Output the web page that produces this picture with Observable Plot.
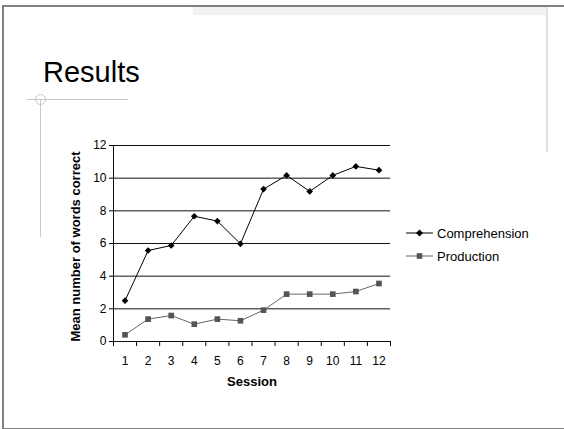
<!DOCTYPE html>
<html>
<head>
<meta charset="utf-8">
<script src="https://cdn.jsdelivr.net/npm/d3@7"></script>
<script src="https://cdn.jsdelivr.net/npm/@observablehq/plot@0.6"></script>
<style>
  html, body { margin: 0; padding: 0; background: #fff; }
  #slide { position: relative; width: 564px; height: 429px; overflow: hidden; font-family: "Liberation Sans", Arial, sans-serif; }
  .abs { position: absolute; }
  #frame { left: 2px; top: 5px; width: 570px; height: 421px; border-top: 2px solid #808080; border-left: 2px solid #808080; border-bottom: 2px solid #808080; box-sizing: content-box; }
  #band { left: 193px; top: 7px; width: 354px; height: 8px; background: #f2f2f2; }
  #vline { left: 546px; top: 7px; width: 2px; height: 145px; background: #e0e0e0; }
  #hline2 { left: 27px; top: 99px; width: 101px; height: 1px; background: #c8c8c8; }
  #vline2 { left: 40px; top: 99px; width: 1px; height: 138px; background: #c8c8c8; }
  #circ { left: 35px; top: 94px; width: 9px; height: 9px; border: 1px solid #c8c8c8; border-radius: 50%; }
  #title { left: 43px; top: 52px; font-size: 29px; line-height: 40px; color: #000; }
  #chart { left: 0; top: 0; }
  .leg { position: absolute; left: 406px; font-size: 13px; color: #000; display: flex; align-items: center; height: 16px; }
  .leg svg { margin-right: 4px; }
</style>
</head>
<body>
<div id="slide">
  <div id="frame" class="abs"></div>
  <div id="band" class="abs"></div>
  <div id="vline" class="abs"></div>
  <div id="hline2" class="abs"></div>
  <div id="vline2" class="abs"></div>
  <div id="circ" class="abs"></div>
  <div id="title" class="abs">Results</div>
  <div id="chart" class="abs"></div>
  <div class="leg" style="top:225px"><svg width="27" height="10"><line x1="0" y1="5" x2="27" y2="5" stroke="#000"/><path d="M13.5 1.5 L17 5 L13.5 8.5 L10 5 Z" fill="#000"/></svg>Comprehension</div>
  <div class="leg" style="top:248px"><svg width="27" height="10"><line x1="0" y1="5" x2="27" y2="5" stroke="#666"/><rect x="10.7" y="2.2" width="5.6" height="5.6" fill="#555"/></svg>Production</div>
</div>
<script>
const sessions = [1, 2, 3, 4, 5, 6, 7, 8, 9, 10, 11, 12];
const comprehension = [2.5, 5.57, 5.88, 7.67, 7.37, 5.98, 9.33, 10.17, 9.19, 10.17, 10.72, 10.49];
const production = [0.41, 1.37, 1.59, 1.06, 1.37, 1.27, 1.92, 2.9, 2.9, 2.9, 3.06, 3.55];
const yTicks = [0, 2, 4, 6, 8, 10, 12];
const gridValues = [2, 4, 6, 8, 10, 12];
const xBoundaries = [0.5, 1.5, 2.5, 3.5, 4.5, 5.5, 6.5, 7.5, 8.5, 9.5, 10.5, 11.5, 12.5];
const yLabel = "Mean number of words correct";
const xLabel = "Session";

const comp = sessions.map((s, i) => ({session: s, value: comprehension[i]}));
const prod = sessions.map((s, i) => ({session: s, value: production[i]}));

const chart = Plot.plot({
  width: 564,
  height: 429,
  marginLeft: 113,
  marginRight: 174,
  marginTop: 145,
  marginBottom: 88,
  x: {domain: [0.5, 12.5]},
  y: {domain: [0, 12]},
  style: {fontFamily: "'Liberation Sans', Arial, sans-serif", fontSize: "12px", color: "#000", background: "transparent", overflow: "visible"},
  marks: [
    Plot.ruleY(gridValues, {stroke: "#111", strokeWidth: 1}),
    Plot.ruleY([0], {stroke: "#111", strokeWidth: 1}),
    Plot.ruleX([0.5], {stroke: "#111", strokeWidth: 1}),
    Plot.axisY({ticks: yTicks, tickSize: 4, tickPadding: 3, label: null, fontSize: 12}),
    Plot.axisX({ticks: xBoundaries, tickSize: 5, tickFormat: () => "", label: null}),
    Plot.axisX({ticks: sessions, tickSize: 0, tickPadding: 15, label: null, fontSize: 12}),
    Plot.line(prod, {x: "session", y: "value", stroke: "#666", strokeWidth: 1}),
    Plot.dot(prod, {x: "session", y: "value", symbol: "square", r: 3.2, fill: "#555"}),
    Plot.line(comp, {x: "session", y: "value", stroke: "#000", strokeWidth: 1}),
    Plot.dot(comp, {x: "session", y: "value", symbol: "diamond2", r: 3, fill: "#000"}),
    Plot.text([yLabel], {text: d => d, frameAnchor: "left", textAnchor: "middle", dx: -38, dy: 3, rotate: -90, fontWeight: "bold", fontSize: 13}),
    Plot.text([xLabel], {text: d => d, frameAnchor: "bottom", dy: 44, fontWeight: "bold", fontSize: 13})
  ]
});
document.getElementById("chart").appendChild(chart);
</script>
</body>
</html>
